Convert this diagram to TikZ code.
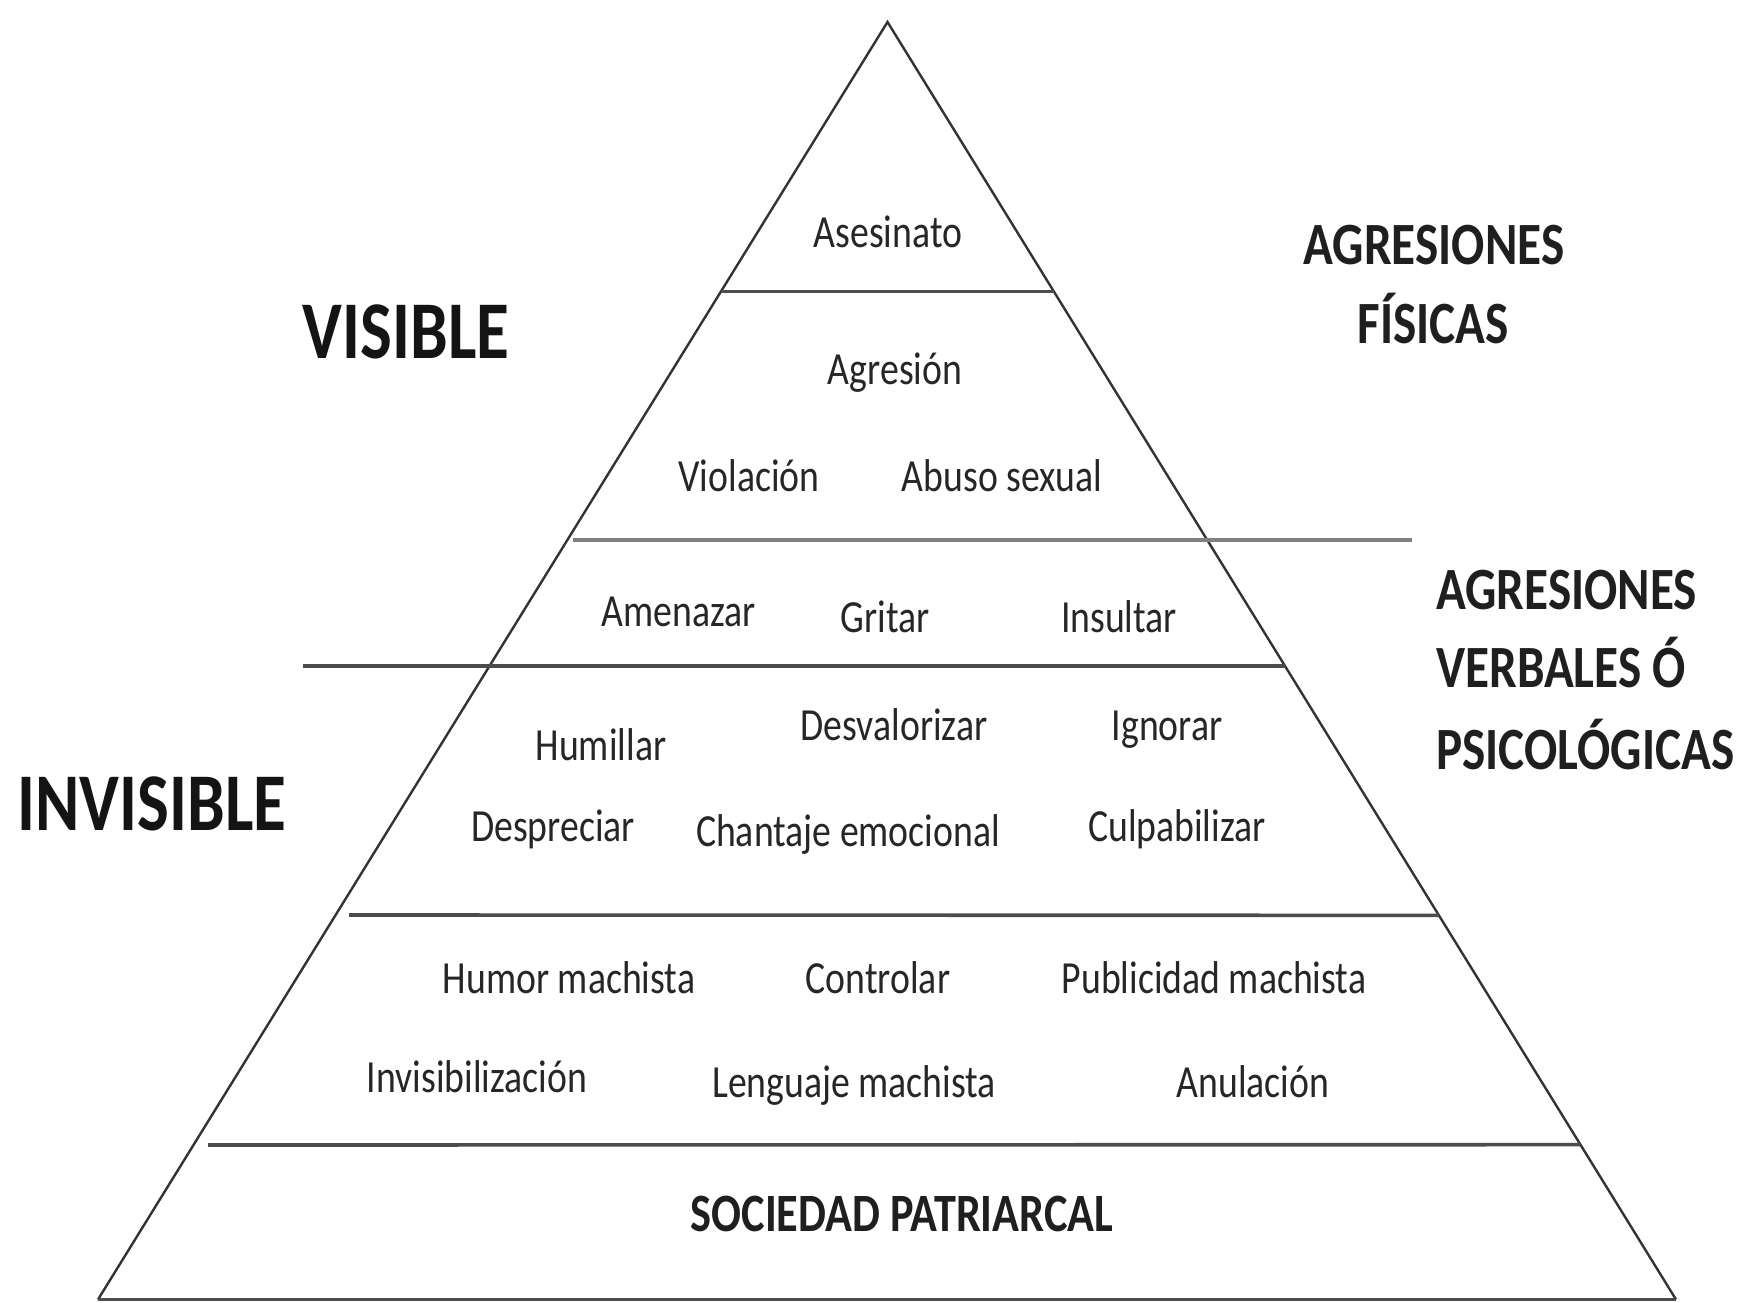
\documentclass[tikz,border=0pt]{standalone}
\usepackage{fontspec}
\setmainfont{Carlito}[FakeStretch=0.82]
\usetikzlibrary{calc}
\begin{document}
\begin{tikzpicture}[x=1pt,y=-1pt,
  edge/.style={draw=black!80,line width=2.4pt},
  tier/.style={draw=black!70,line width=3.6pt},
  tierlight/.style={draw=black!50,line width=3.6pt},
  lbl/.style={anchor=base,inner sep=0pt,text=black!85,font=\fontsize{46}{50}\selectfont},
  big/.style={anchor=base,inner sep=0pt,text=black!92,font=\bfseries\fontsize{82}{86}\selectfont},
  head/.style={anchor=base west,inner sep=0pt,text=black!88,font=\bfseries\fontsize{60}{64}\selectfont},
  base/.style={anchor=base,inner sep=0pt,text=black!88,font=\bfseries\fontsize{54}{58}\selectfont}]
\useasboundingbox (0,0) rectangle (1746,1303);
\fill[white] (0,0) rectangle (1746,1303);
\coordinate (apex) at (887.5,22);
\coordinate (bl) at (98,1299.5);
\coordinate (br) at (1676,1299.5);
% tier ends
\coordinate (l1) at ($(apex)!0.2111!(bl)$);
\coordinate (r1) at ($(apex)!0.2111!(br)$);
\coordinate (l2) at (573,540);
\coordinate (r2) at (1412,540);
\coordinate (l3) at (303,666);
\coordinate (r3) at ($(apex)!0.5041!(br)$);
\coordinate (l4) at (349,915);
\coordinate (r4) at ($(apex)!0.6993!(br)$);
\coordinate (l5) at (208,1145);
\coordinate (r5) at ($(apex)!0.8788!(br)$);
\draw[edge] (bl) -- (apex) -- (br);
\draw[tier] (bl) -- (br);
\draw[tier] (l1) -- (r1);
\draw[tierlight] (l2) -- (r2);
\draw[tier] (l3) -- (r3);
\draw[tier] (l4) -- (r4);
\draw[tier] (l5) -- (r5);
% labels
\node[lbl] (asesinato) at (888,247) {Asesinato};
\node[big] (visible) at (406,358) {VISIBLE};
\node[lbl] (agresion) at (895,384) {Agresión};
\node[lbl] (violacion) at (749,491) {Violación};
\node[lbl] (abuso) at (1002,491) {Abuso sexual};
\node[head,anchor=base] (af1) at (1434,264) {AGRESIONES};
\node[head,anchor=base] (af2) at (1433,343) {FÍSICAS};
\node[lbl] (amenazar) at (679,626) {Amenazar};
\node[lbl] (gritar) at (885,632) {Gritar};
\node[lbl] (insultar) at (1119,632) {Insultar};
\node[head] (av1) at (1436,609) {AGRESIONES};
\node[head] (av2) at (1436,687) {VERBALES Ó};
\node[head] (av3) at (1436,769) {PSICOLÓGICAS};
\node[big] (invisible) at (152,830) {INVISIBLE};
\node[lbl] (humillar) at (601,760) {Humillar};
\node[lbl] (desvalorizar) at (894,740) {Desvalorizar};
\node[lbl] (ignorar) at (1167,740) {Ignorar};
\node[lbl] (despreciar) at (553,841) {Despreciar};
\node[lbl] (chantaje) at (848,846) {Chantaje emocional};
\node[lbl] (culpabilizar) at (1177,841) {Culpabilizar};
\node[lbl] (humor) at (569,993) {Humor machista};
\node[lbl] (controlar) at (878,993) {Controlar};
\node[lbl] (publicidad) at (1214,993) {Publicidad machista};
\node[lbl] (invisib) at (477,1092) {Invisibilización};
\node[lbl] (lenguaje) at (854,1097) {Lenguaje machista};
\node[lbl] (anulacion) at (1253,1097) {Anulación};
\node[base] (sociedad) at (902,1231) {SOCIEDAD PATRIARCAL};
\end{tikzpicture}
\end{document}
